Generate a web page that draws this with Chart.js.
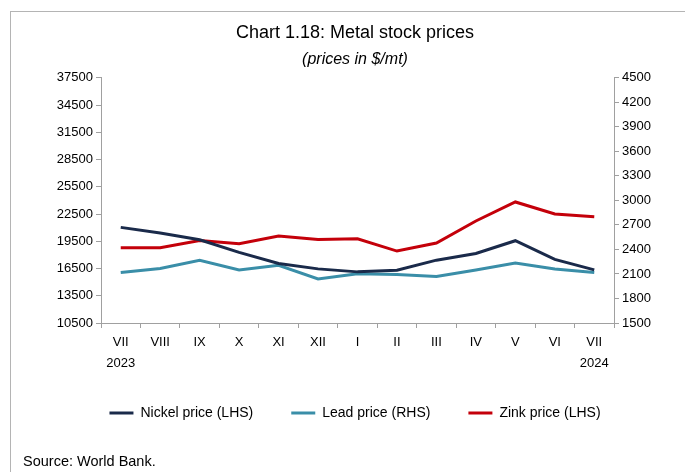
<!DOCTYPE html>
<html>
<head>
<meta charset="utf-8">
<script src="https://cdn.jsdelivr.net/npm/chart.js@4/dist/chart.umd.min.js"></script>
<style>
  body { margin: 0; background: #fff; }
  #wrap { position: relative; width: 685px; height: 472px; }
</style>
</head>
<body>
<div id="wrap"><canvas id="metalChart"></canvas></div>
<script>
// months (VII 2023 - VII 2024)
const months = [["VII", "2023"], "VIII", "IX", "X", "XI", "XII", "I", "II", "III", "IV", "V", "VI", ["VII", "2024"]];

// prices in $/mt
const nickelPrice = [21030, 20400, 19670, 18270, 17050, 16460, 16130, 16320, 17420, 18160, 19560, 17500, 16350];
const leadPrice = [2119, 2168, 2266, 2148, 2205, 2038, 2103, 2094, 2069, 2148, 2234, 2160, 2119];
const zinkPrice = [18780, 18780, 19590, 19220, 20070, 19700, 19780, 18420, 19300, 21730, 23830, 22500, 22210];

// axis ranges
const leftMin = 10500, leftMax = 37500, leftStep = 3000;
const rightMin = 1500, rightMax = 4500, rightStep = 300;

const FONT = "'Liberation Sans', Arial, sans-serif";
const axisGrey = "#a0a0a0";

// frame + source note
const framePlugin = {
  id: "frame",
  beforeDraw(chart) {
    const ctx = chart.ctx;
    ctx.save();
    ctx.strokeStyle = "#b4b4b4";
    ctx.lineWidth = 1;
    ctx.strokeRect(10.5, 11.5, 700, 500);
    ctx.restore();
  },
  afterDraw(chart) {
    const ctx = chart.ctx;
    ctx.save();
    ctx.fillStyle = "#000";
    ctx.font = "14.5px " + FONT;
    ctx.textBaseline = "middle";
    ctx.fillText("Source: World Bank.", 23, 462);
    ctx.restore();
  },
};

const ctx = document.getElementById("metalChart").getContext("2d");

const metalChart = new Chart(ctx, {
  type: "line",
  data: {
    labels: months,
    datasets: [
      {
        label: "Nickel price (LHS)",
        data: nickelPrice,
        borderColor: "#1a2a4a",
        backgroundColor: "#1a2a4a",
        borderWidth: 3,
        pointRadius: 0,
        yAxisID: "y",
      },
      {
        label: "Lead price (RHS)",
        data: leadPrice,
        borderColor: "#3a8ea8",
        backgroundColor: "#3a8ea8",
        borderWidth: 3,
        pointRadius: 0,
        yAxisID: "y1",
      },
      {
        label: "Zink price (LHS)",
        data: zinkPrice,
        borderColor: "#c4000a",
        backgroundColor: "#c4000a",
        borderWidth: 3,
        pointRadius: 0,
        yAxisID: "y",
      },
    ],
  },
  options: {
    responsive: true,
    maintainAspectRatio: false,
    animation: false,
    layout: {
      padding: { left: 25, right: 0, top: 0, bottom: 42 },
    },
    plugins: {
      title: {
        display: true,
        text: "Chart 1.18: Metal stock prices",
        color: "#000",
        font: { family: FONT, size: 18, weight: "normal" },
        padding: { top: 22, bottom: 5 },
      },
      subtitle: {
        display: true,
        text: "(prices in $/mt)",
        color: "#000",
        font: { family: FONT, size: 16, style: "italic" },
        padding: { top: 1, bottom: 9 },
      },
      legend: {
        position: "bottom",
        labels: {
          usePointStyle: true,
          pointStyle: "line",
          pointStyleWidth: 24,
          padding: 38,
          color: "#000",
          font: { family: FONT, size: 14 },
        },
      },
      tooltip: { enabled: false },
    },
    scales: {
      x: {
        offset: true,
        grid: {
          offset: true,
          drawOnChartArea: false,
          tickLength: 5,
          color: axisGrey,
        },
        border: { color: axisGrey },
        ticks: {
          autoSkip: false,
          maxRotation: 0,
          padding: 4,
          color: "#000",
          font: { family: FONT, size: 13, lineHeight: 1.6 },
        },
        afterFit: (scale) => {
          scale.height = 45;
        },
      },
      y: {
        position: "left",
        min: leftMin,
        max: leftMax,
        grid: {
          drawOnChartArea: false,
          tickLength: 5,
          color: axisGrey,
        },
        border: { color: axisGrey },
        ticks: {
          stepSize: leftStep,
          autoSkip: false,
          padding: 3,
          color: "#000",
          font: { family: FONT, size: 13 },
          callback: (value) => String(value),
        },
        afterFit: (scale) => {
          scale.width = 76;
        },
      },
      y1: {
        position: "right",
        min: rightMin,
        max: rightMax,
        grid: {
          drawOnChartArea: false,
          tickLength: 5,
          color: axisGrey,
        },
        border: { color: axisGrey },
        ticks: {
          stepSize: rightStep,
          autoSkip: false,
          padding: 3,
          color: "#000",
          font: { family: FONT, size: 13 },
          callback: (value) => String(value),
        },
        afterFit: (scale) => {
          scale.width = 71;
        },
      },
    },
  },
  plugins: [framePlugin],
});
</script>
</body>
</html>
